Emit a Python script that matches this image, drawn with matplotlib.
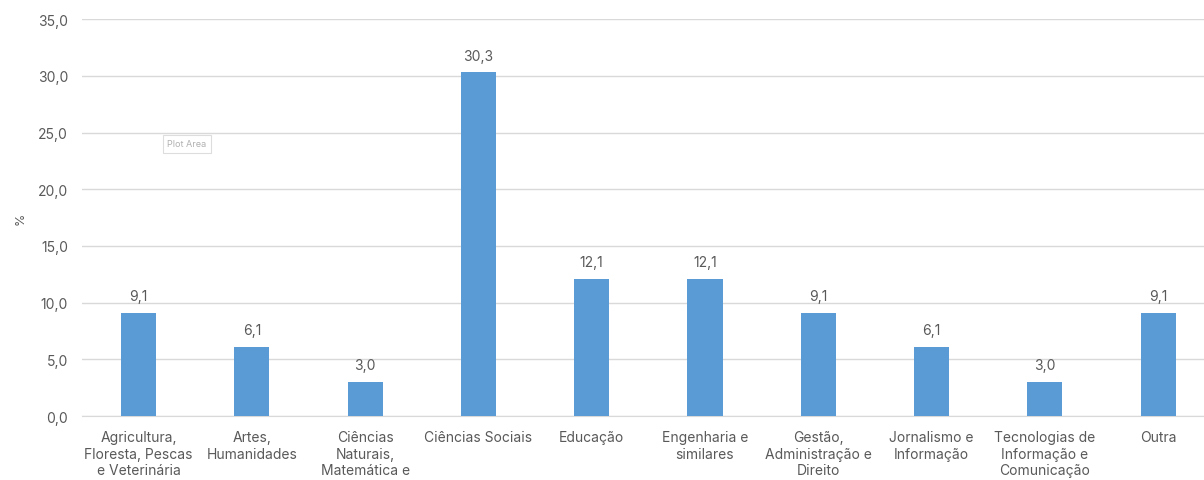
import matplotlib.pyplot as plt
import numpy as np

categories = [
    "Agricultura,\nFloresta, Pescas\ne Veterinária",
    "Artes,\nHumanidades",
    "Ciências\nNaturais,\nMatemática e",
    "Ciências Sociais",
    "Educação",
    "Engenharia e\nsimilares",
    "Gestão,\nAdministração e\nDireito",
    "Jornalismo e\nInformação",
    "Tecnologias de\nInformação e\nComunicação",
    "Outra",
]
values = [9.1, 6.1, 3.0, 30.3, 12.1, 12.1, 9.1, 6.1, 3.0, 9.1]
yticks = [0, 5, 10, 15, 20, 25, 30, 35]

plt.rcParams['font.family'] = ['Inter', 'DejaVu Sans']
text_color = "#595959"

fig = plt.figure(figsize=(12.04, 4.81), dpi=100)
ax = fig.add_axes([0.068, 0.133, 0.941, 0.825])

x = np.arange(len(categories))
ax.bar(x, values, width=0.31, color="#5B9BD5", zorder=3)
for xi, v in zip(x, values):
    ax.annotate(f"{v:.1f}".replace(".", ","), (xi, v), xytext=(0, 7),
                textcoords="offset points", ha="center", va="bottom",
                fontsize=10, color=text_color)

ax.set_xlim(-0.5, len(categories) - 0.5)
ax.set_ylim(0, 35)
ax.set_yticks(yticks)
ax.set_yticklabels([f"{t:.1f}".replace(".", ",") for t in yticks])
ax.set_xticks(x)
ax.set_xticklabels(categories, linespacing=1.25)
ax.tick_params(axis="both", length=0, colors=text_color, labelsize=10)
ax.tick_params(axis="y", pad=10)
ax.tick_params(axis="x", pad=10)
ax.grid(axis="y", color="#d9d9d9", linewidth=1, zorder=0)
for s in ["top", "right", "left"]:
    ax.spines[s].set_visible(False)
ax.spines["bottom"].set_color("#d9d9d9")
ax.set_ylabel("%", color=text_color, fontsize=9, labelpad=8)

# leftover tooltip from the original screenshot
fig.text(0.139, 0.699, "Plot Area", fontsize=6.5, color="#b0b0b0", va="center",
         bbox=dict(boxstyle="square,pad=0.5", fc="white", ec="#dddddd", lw=0.8))

fig.savefig("out.png", dpi=100)
